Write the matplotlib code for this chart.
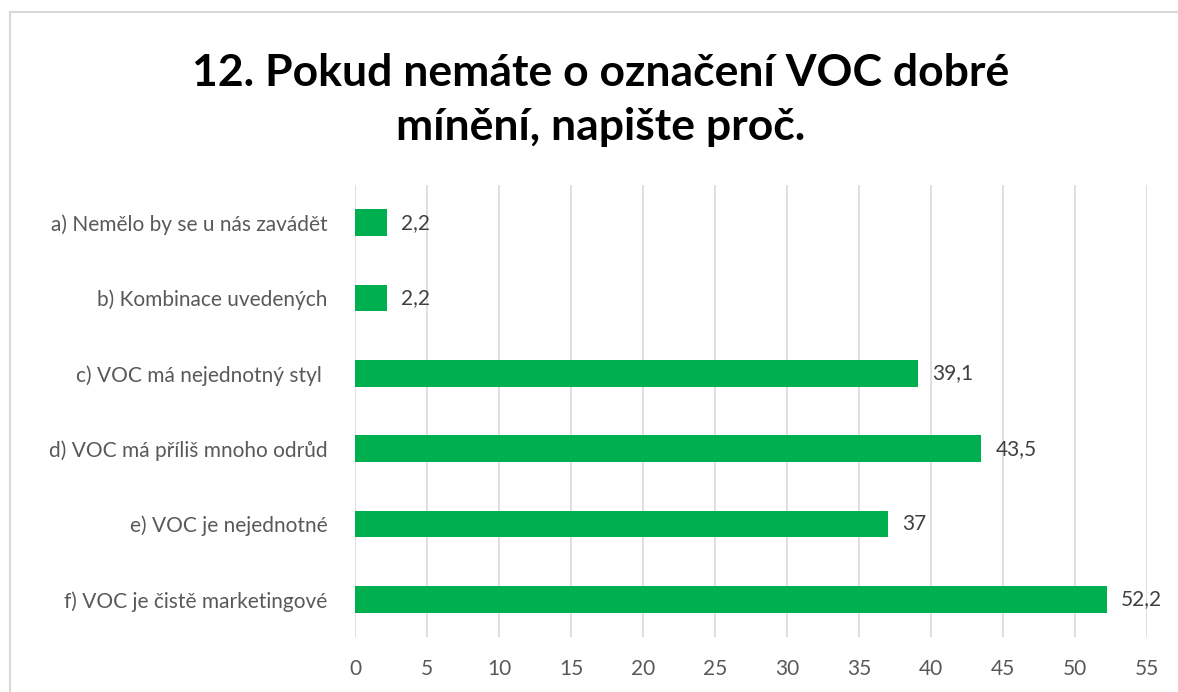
import matplotlib.pyplot as plt
from matplotlib.patches import Rectangle

categories = [
    'a) Nemělo by se u nás zavádět',
    'b) Kombinace uvedených',
    'c) VOC má nejednotný styl ',
    'd) VOC má příliš mnoho odrůd',
    'e) VOC je nejednotné',
    'f) VOC je čistě marketingové',
]
values = [2.2, 2.2, 39.1, 43.5, 37, 52.2]
value_labels = ['2,2', '2,2', '39,1', '43,5', '37', '52,2']
x_ticks = list(range(0, 56, 5))

plt.rcParams['font.family'] = ['Lato', 'DejaVu Sans']

fig = plt.figure(figsize=(11.78, 6.92), dpi=100)
fig.patches.append(Rectangle((10 / 1178, -0.1), 1.2, 1 - 12 / 692 + 0.1,
                             transform=fig.transFigure, fill=False,
                             edgecolor='#D9D9D9', linewidth=1.5))

ax = fig.add_axes([355 / 1178, 1 - 637 / 692, (1147 - 355) / 1178, (637 - 185) / 692])
y = list(range(len(categories)))
ax.barh(y, values, height=0.35, color='#00B050')
for yi, v, lab in zip(y, values, value_labels):
    ax.text(v + 1.0, yi, lab, va='center', ha='left', fontsize=15, color='#404040')

ax.set_xlim(0, 55)
ax.set_ylim(len(categories) - 0.5, -0.5)
ax.set_xticks(x_ticks)
ax.set_yticks(y)
ax.set_yticklabels(categories)
ax.tick_params(axis='both', length=0, labelsize=15, colors='#595959')
ax.tick_params(axis='x', pad=16)
ax.tick_params(axis='y', pad=20)
ax.grid(axis='x', color='#D9D9D9', linewidth=1.2)
ax.set_axisbelow(True)
for s in ax.spines.values():
    s.set_visible(False)

fig.text(0.51, 1 - 100 / 692, '12. Pokud nemáte o označení VOC dobré\nmínění, napište proč.',
         ha='center', va='center', fontsize=32, fontweight='bold', linespacing=1.4)

fig.savefig('out.png', dpi=100)
